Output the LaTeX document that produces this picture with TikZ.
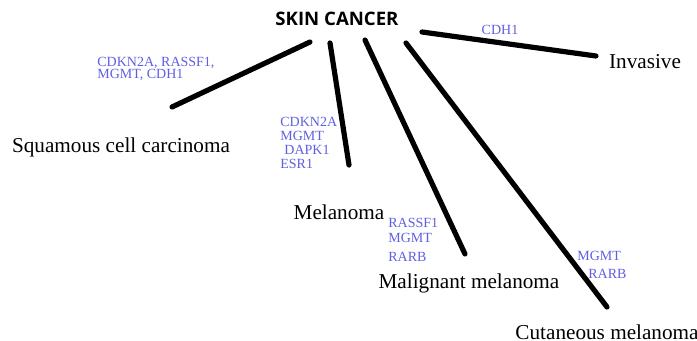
\documentclass[tikz,border=0pt]{standalone}
\usepackage{fontspec}
\setmainfont{Liberation Serif}
\newfontfamily\headfont{Open Sans}
\definecolor{genecol}{RGB}{95,95,225}
\begin{document}
\begin{tikzpicture}[
        x=0.5pt, y=-0.5pt,
        every node/.style={inner sep=0pt},
        subtype/.style={font=\fontsize{10.6}{12}\selectfont},
        genes/.style={
            font=\fontsize{7}{7}\selectfont,
            text=genecol,
            align=left,
            anchor=north west
        },
        branch/.style={line width=2.6pt, line cap=round}
    ]
        \useasboundingbox (0,0) rectangle (697,341);

        \node[font=\headfont\bfseries\fontsize{9.3}{11}\selectfont] (skin) at (337,19) {SKIN CANCER};

        \node[subtype] (squamous) at (121,147) {Squamous cell carcinoma};
        \node[subtype] (melanoma) at (339,212) {Melanoma};
        \node[subtype] (malignant) at (469,283) {Malignant melanoma};
        \node[subtype] (cutaneous) at (607,332) {Cutaneous melanoma};
        \node[subtype] (invasive) at (645,62) {Invasive};

        \node[genes] (squamousgenes) at (97,56.5) {CDKN2A, RASSF1,\\[-1pt]MGMT, CDH1};
        \node[genes] (melanomagenes) at (280,116.4) {CDKN2A\\MGMT\\\hspace{2pt}DAPK1\\ESR1};
        \node[genes] (malignantgenes) at (388,217.4) {RASSF1\\[0.5pt]MGMT\\[2.5pt]RARB};
        \node[genes] (cutaneousgenes) at (577,250.4) {MGMT\\[2pt]\hspace{5.5pt}RARB};
        \node[genes, anchor=center] (invasivegenes) at (500,30) {CDH1};

        \coordinate (squamoustop) at (310,42);
        \coordinate (squamousend) at (172,107);
        \coordinate (melanomatop) at (330,43);
        \coordinate (melanomaend) at (349,165);
        \coordinate (malignanttop) at (365,40);
        \coordinate (malignantend) at (465,254);
        \coordinate (cutaneoustop) at (406,43);
        \coordinate (cutaneousend) at (607,307);
        \coordinate (invasivetop) at (422,32);
        \coordinate (invasiveend) at (596,56);

        \draw[branch] (squamoustop) -- (squamousend);
        \draw[branch] (melanomatop) -- (melanomaend);
        \draw[branch] (malignanttop) -- (malignantend);
        \draw[branch] (cutaneoustop) -- (cutaneousend);
        \draw[branch] (invasivetop) -- (invasiveend);
    \end{tikzpicture}
\end{document}
